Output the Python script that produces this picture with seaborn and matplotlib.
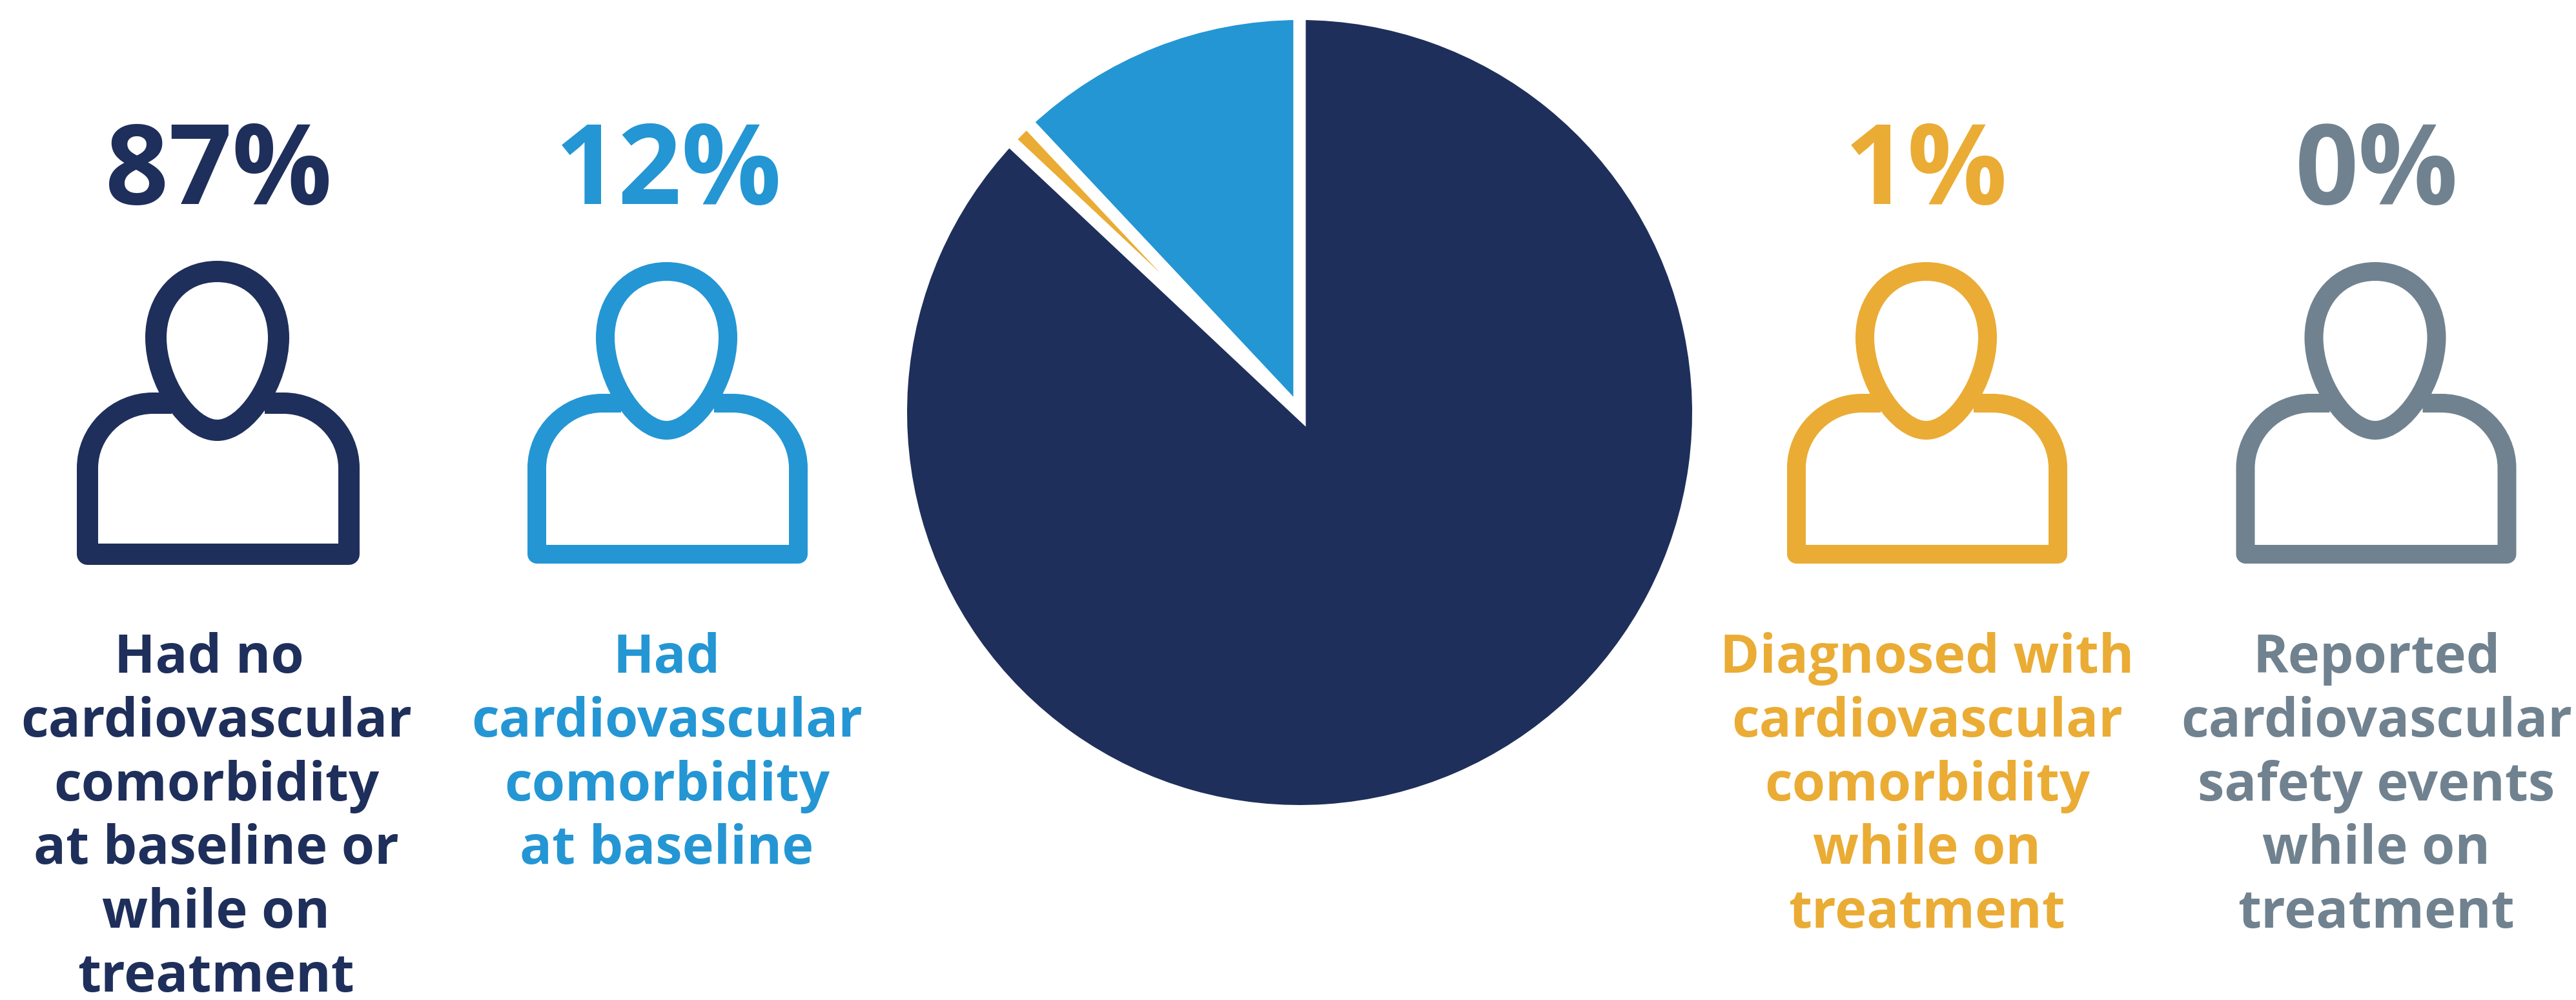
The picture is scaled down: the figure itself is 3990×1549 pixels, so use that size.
import matplotlib
matplotlib.use("Agg")
import matplotlib.pyplot as plt
import seaborn as sns
from matplotlib.path import Path
from matplotlib.patches import PathPatch

# Share of patients in each group
groups = ["none", "baseline", "on_treatment", "safety"]
shares = [87, 12, 1, 0]
percent_labels = ["87%", "12%", "1%", "0%"]
descriptions = [
    ["Had no ", "cardiovascular", "comorbidity", "at baseline or", "while on", "treatment"],
    ["Had", "cardiovascular", "comorbidity", "at baseline"],
    ["Diagnosed with", "cardiovascular", "comorbidity", "while on", "treatment"],
    ["Reported", "cardiovascular", "safety events", "while on", "treatment"],
]
group_colors = ["#1F2F5B", "#2496D4", "#EAAC34", "#70828F"]

# Horizontal layout of the four columns, in pixels
icon_centers = [338, 1034, 2985, 3680.5]
icon_strokes = [33, 29, 29, 29]
percent_centers = [339, 1036, 2983, 3681]
text_centers = [335, 1033, 2985, 3681]

WIDTH, HEIGHT = 3991, 1549
DPI = 100
PX = 72 / DPI  # points per pixel

sns.set_theme(style="white")
plt.rcParams["font.family"] = ["Open Sans", "DejaVu Sans"]
palette = sns.color_palette(group_colors)

fig = plt.figure(figsize=(WIDTH / DPI, HEIGHT / DPI), dpi=DPI, facecolor="white")

# Pixel-space overlay for the icons and captions
canvas = fig.add_axes([0, 0, 1, 1])
canvas.set_xlim(0, WIDTH)
canvas.set_ylim(HEIGHT, 0)
canvas.axis("off")


def draw_person(ax, cx, color, stroke):
    """Outline of a head and shoulders, stroked in the group colour."""
    h = cx - 1.5  # the head sits slightly left of the shoulders
    head = Path(
        [(h, 420.5), (h + 57, 420.5), (h + 95, 465), (h + 95, 523),
         (h + 95, 590), (h + 45, 666.5), (h, 666.5),
         (h - 45, 666.5), (h - 95, 590), (h - 95, 523),
         (h - 95, 465), (h - 57, 420.5), (h, 420.5), (h, 420.5)],
        [Path.MOVETO, Path.CURVE4, Path.CURVE4, Path.CURVE4,
         Path.CURVE4, Path.CURVE4, Path.CURVE4,
         Path.CURVE4, Path.CURVE4, Path.CURVE4,
         Path.CURVE4, Path.CURVE4, Path.CURVE4, Path.CLOSEPOLY],
    )
    body = Path(
        [(cx - 72, 624.5), (cx - 101, 624.5),
         (cx - 157, 624.5), (cx - 202.5, 670), (cx - 202.5, 725),
         (cx - 202.5, 858.5), (cx + 202.5, 858.5), (cx + 202.5, 725),
         (cx + 202.5, 670), (cx + 157, 624.5), (cx + 101, 624.5),
         (cx + 72, 624.5)],
        [Path.MOVETO, Path.LINETO,
         Path.CURVE4, Path.CURVE4, Path.CURVE4,
         Path.LINETO, Path.LINETO, Path.LINETO,
         Path.CURVE4, Path.CURVE4, Path.CURVE4,
         Path.LINETO],
    )
    ax.add_patch(PathPatch(body, fill=False, edgecolor=color, lw=stroke * PX,
                           joinstyle="round", capstyle="butt"))
    ax.add_patch(PathPatch(head, facecolor="white", edgecolor=color, lw=stroke * PX,
                           joinstyle="round"))


for idx, group in enumerate(groups):
    color = palette[idx]
    canvas.text(percent_centers[idx], 316, percent_labels[idx], color=color,
                fontsize=172 * PX, fontweight="bold", ha="center", va="baseline")
    draw_person(canvas, icon_centers[idx], color, icon_strokes[idx])
    for row, line in enumerate(descriptions[idx]):
        canvas.text(text_centers[idx], 1042 + row * 98.8, line, color=color,
                    fontsize=83 * PX, fontweight="bold", ha="center", va="baseline")

# Pie of the same shares, sized so the white stroke trims it to the visible radius
cx, cy, radius = 2013, 639, 617.5
pie_ax = fig.add_axes([(cx - radius) / WIDTH, 1 - (cy + radius) / HEIGHT,
                       2 * radius / WIDTH, 2 * radius / HEIGHT])
order = [1, 2, 3, 0]
pie_ax.pie([shares[i] for i in order], colors=[palette[i] for i in order],
           startangle=90, counterclock=True, radius=1,
           wedgeprops={"edgecolor": "white", "linewidth": 19 * PX})
pie_ax.set_xlim(-1, 1)
pie_ax.set_ylim(-1, 1)

fig.savefig("out.png", dpi=DPI, facecolor="white")
